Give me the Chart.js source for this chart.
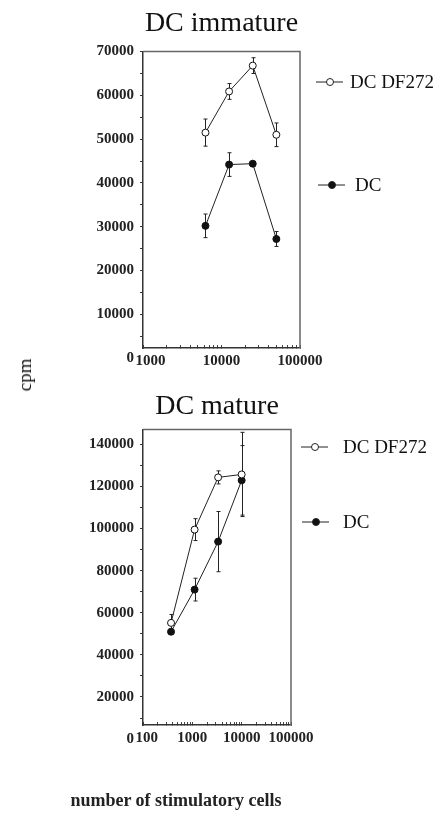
<!DOCTYPE html>
<html>
<head>
<meta charset="utf-8">
<script src="https://cdn.jsdelivr.net/npm/chart.js@4.4.0/dist/chart.umd.min.js"></script>
<style>
  body { margin: 0; background: #fff; width: 441px; height: 815px; position: relative; overflow: hidden; }
  canvas { position: absolute; left: 0; }
  #immature { top: 0; }
  #mature { top: 380px; }
  .txt { position: absolute; font-family: "Liberation Serif", serif; color: #111; white-space: nowrap; }
  #ylab { left: 25px; top: 375px; font-size: 19px; transform: translate(-50%, -50%) rotate(-90deg); }
  #xlab { left: 176px; top: 800px; font-size: 18px; font-weight: bold; color: #222; transform: translate(-50%, -50%); }
</style>
</head>
<body>
<canvas id="immature" width="441" height="380"></canvas>
<canvas id="mature" width="441" height="435"></canvas>
<div class="txt" id="ylab">cpm</div>
<div class="txt" id="xlab">number of stimulatory cells</div>
<script>
// DC immature
const immCells = [6250, 12500, 25000, 50000];
const immDF272 = [51500, 60900, 66800, 51000];
const immDF272Err = [3100, 1800, 1800, 2700];
const immDC = [30200, 44200, 44400, 27200];
const immDCErr = [2700, 2700, 500, 1700];
const immYTicks = [0, 10000, 20000, 30000, 40000, 50000, 60000, 70000];

// DC mature
const matCells = [370, 1111, 3333, 10000];
const matDF272 = [55200, 99500, 124300, 125700];
const matDF272Err = [4000, 5200, 3100, 20000];
const matDC = [51000, 71000, 93800, 122900];
const matDCErr = [1000, 5400, 14300, 16500];
const matYTicks = [0, 20000, 40000, 60000, 80000, 100000, 120000, 140000];

const serif = "'Liberation Serif', serif";
const ink = '#111';

const errorBars = {
  id: 'errorBars',
  beforeDatasetsDraw(chart) {
    const { ctx, scales: { x, y } } = chart;
    ctx.save();
    ctx.strokeStyle = '#222';
    ctx.lineWidth = 1;
    chart.data.datasets.forEach(ds => {
      ds.data.forEach((p, i) => {
        const e = ds.errors[i];
        const px = Math.round(x.getPixelForValue(p.x)) + 0.5;
        const top = y.getPixelForValue(p.y + e);
        const bot = y.getPixelForValue(p.y - e);
        ctx.beginPath();
        ctx.moveTo(px, top); ctx.lineTo(px, bot);
        ctx.moveTo(px - 2, top); ctx.lineTo(px + 2, top);
        ctx.moveTo(px - 2, bot); ctx.lineTo(px + 2, bot);
        ctx.stroke();
      });
    });
    ctx.restore();
  }
};

const frame = {
  id: 'frame',
  afterDraw(chart) {
    const { ctx, chartArea: a } = chart;
    ctx.save();
    ctx.strokeStyle = '#666';
    ctx.lineWidth = 1.5;
    ctx.beginPath();
    ctx.moveTo(a.left, a.top); ctx.lineTo(a.right, a.top); ctx.lineTo(a.right, a.bottom);
    ctx.stroke();
    ctx.restore();
  }
};

const sideLegend = {
  id: 'sideLegend',
  afterDraw(chart, args, opts) {
    const ctx = chart.ctx;
    ctx.save();
    opts.items.forEach((it, i) => {
      const ds = chart.data.datasets[i];
      ctx.strokeStyle = '#222';
      ctx.lineWidth = 1;
      ctx.beginPath();
      ctx.moveTo(it.x, it.y); ctx.lineTo(it.x + 27, it.y);
      ctx.stroke();
      ctx.beginPath();
      ctx.arc(it.x + 14, it.y, 3.5, 0, Math.PI * 2);
      ctx.fillStyle = ds.pointBackgroundColor;
      ctx.fill();
      ctx.stroke();
      ctx.fillStyle = ink;
      ctx.font = '19px ' + serif;
      ctx.textBaseline = 'middle';
      ctx.fillText(ds.label, it.tx, it.y + 1);
    });
    ctx.restore();
  }
};

function series(label, cells, vals, errs, filled) {
  return {
    label: label,
    data: cells.map((c, i) => ({ x: c, y: vals[i] })),
    errors: errs,
    borderColor: '#222',
    borderWidth: 1,
    tension: 0,
    pointRadius: 3.5,
    pointBorderWidth: 1,
    pointBorderColor: '#111',
    pointBackgroundColor: filled ? '#111' : '#fff'
  };
}

function logTicks(lo, hi) {
  const out = [];
  for (let p = lo; p < hi; p *= 10) {
    for (let k = 1; k < 10; k++) out.push(k * p);
  }
  out.push(hi);
  return out;
}

function makeChart(id, cfg) {
  new Chart(document.getElementById(id), {
    type: 'line',
    data: {
      datasets: [
        series('DC DF272', cfg.cells, cfg.df, cfg.dfErr, false),
        series('DC', cfg.cells, cfg.dc, cfg.dcErr, true)
      ]
    },
    options: {
      responsive: false,
      animation: false,
      devicePixelRatio: 1,
      layout: { padding: cfg.padding },
      plugins: {
        legend: { display: false },
        tooltip: { enabled: false },
        title: {
          display: true,
          text: cfg.title,
          fullSize: false,
          color: ink,
          font: { family: serif, size: 28, weight: 'normal' },
          padding: cfg.titlePad
        },
        sideLegend: { items: cfg.legend }
      },
      scales: {
        x: {
          type: 'logarithmic',
          min: cfg.xMin,
          max: cfg.xMax,
          afterBuildTicks: s => { s.ticks = logTicks(cfg.xMin, cfg.xMax).map(v => ({ value: v })); },
          afterFit: s => { s.height = 26; },
          border: { color: '#333', width: 1.5 },
          grid: { drawOnChartArea: false, tickLength: -3, color: '#444' },
          ticks: {
            autoSkip: false,
            maxRotation: 0,
            padding: 7,
            color: '#222',
            font: { family: serif, size: 15, weight: 'bold' },
            callback: (v, i) => {
              const l = Math.log10(v);
              if (Math.abs(l - Math.round(l)) > 1e-9) return '';
              return (i === 0 ? cfg.firstPad : '') + String(v);
            }
          }
        },
        y: {
          min: cfg.yMin,
          max: cfg.yMax,
          afterBuildTicks: s => {
            const t = [];
            for (let v = 0; v <= cfg.yTicks[cfg.yTicks.length - 1]; v += cfg.yStep / 2) t.push({ value: v });
            s.ticks = t;
          },
          afterFit: s => { s.width = 143; },
          border: { color: '#333', width: 1.5 },
          grid: {
            drawOnChartArea: false,
            tickLength: 3,
            color: c => (c.tick && c.tick.value === 0 ? 'rgba(0,0,0,0)' : '#333')
          },
          ticks: {
            padding: 6,
            color: '#222',
            font: { family: serif, size: 15, weight: 'bold' },
            callback: v => (cfg.yTicks.includes(v) ? String(v) : '')
          }
        }
      }
    },
    plugins: [errorBars, frame, sideLegend]
  });
}

makeChart('immature', {
  title: 'DC immature',
  cells: immCells, df: immDF272, dfErr: immDF272Err, dc: immDC, dcErr: immDCErr,
  xMin: 1000, xMax: 100000, yMin: 2300, yMax: 70000,
  yTicks: immYTicks, yStep: 10000,
  firstPad: '\u2002\u2002',
  padding: { left: 0, right: 141, top: 0, bottom: 6 },
  titlePad: { top: 7, bottom: 11 },
  legend: [
    { x: 316, y: 82, tx: 350 },
    { x: 318, y: 185, tx: 355 }
  ]
});

makeChart('mature', {
  title: 'DC mature',
  cells: matCells, df: matDF272, dfErr: matDF272Err, dc: matDC, dcErr: matDCErr,
  xMin: 100, xMax: 100000, yMin: 6700, yMax: 147000,
  yTicks: matYTicks, yStep: 20000,
  firstPad: '\u2002',
  padding: { left: 0, right: 150, top: 0, bottom: 64 },
  titlePad: { top: 10, bottom: 6 },
  legend: [
    { x: 301, y: 67, tx: 343 },
    { x: 302, y: 142, tx: 343 }
  ]
});
</script>
</body>
</html>
